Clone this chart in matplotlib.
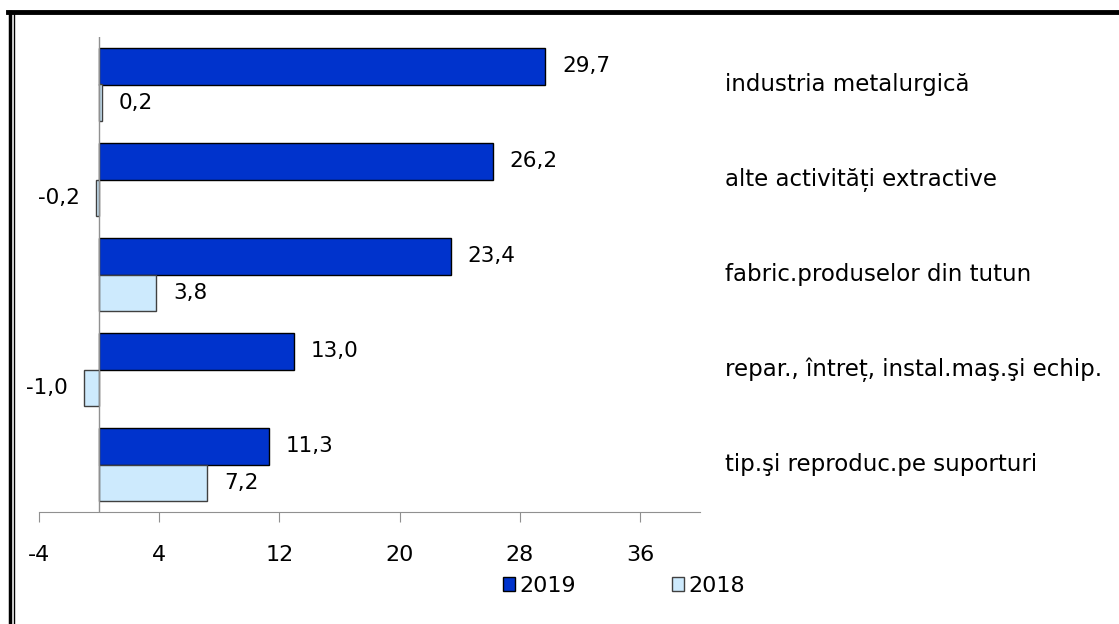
import matplotlib
matplotlib.use("Agg")
import matplotlib.pyplot as plt
from matplotlib.lines import Line2D
import numpy as np

plt.rcParams["font.family"] = ["DejaVu Sans"]

categories = ["industria metalurgică", "alte activități extractive",
              "fabric.produselor din tutun", "repar., întreț, instal.maş.şi echip.",
              "tip.şi reproduc.pe suporturi"]
v2019 = [29.7, 26.2, 23.4, 13.0, 11.3]
v2018 = [0.2, -0.2, 3.8, -1.0, 7.2]
xticks = [-4, 4, 12, 20, 28, 36]

fig = plt.figure(figsize=(11.19, 6.24), dpi=100)
ax = fig.add_axes([39 / 1119, 1 - 512 / 624, 661 / 1119, 475 / 624])

y = np.arange(len(categories))[::-1]
h = 0.384
b1 = ax.barh(y + h / 2, v2019, height=h, color="#0033cc", edgecolor="black", linewidth=1, label="2019")
b2 = ax.barh(y - h / 2, v2018, height=h, color="#cdeafd", edgecolor="#404040", linewidth=1, label="2018")

def fmt(v):
    return ("%.1f" % v).replace(".", ",")

for bars, vals in ((b1, v2019), (b2, v2018)):
    for bar, v in zip(bars, vals):
        yc = bar.get_y() + bar.get_height() / 2
        if v >= 0:
            ax.annotate(fmt(v), (v, yc), xytext=(12, 0), textcoords="offset points",
                        ha="left", va="center", fontsize=15.5)
        else:
            ax.annotate(fmt(v), (v, yc), xytext=(-12, 0), textcoords="offset points",
                        ha="right", va="center", fontsize=15.5)

for yy, name in zip(y, categories):
    ax.text(1.038, yy, name, transform=ax.get_yaxis_transform(), ha="left", va="center",
            fontsize=16.5, clip_on=False)

ax.set_xlim(-4, 40)
ax.set_ylim(-0.5, len(categories) - 0.5)
ax.set_xticks(xticks)
ax.set_xticklabels([str(t) for t in xticks], fontsize=16)
ax.set_yticks([])
for s in ("top", "right", "left"):
    ax.spines[s].set_visible(False)
ax.spines["bottom"].set_color("#909090")
ax.tick_params(axis="x", colors="#909090", labelcolor="black", length=7, pad=17)
ax.axvline(0, color="#909090", linewidth=1)

leg = fig.legend(handles=[b1, b2], loc="center", bbox_to_anchor=(624 / 1119, 1 - 586 / 624),
                 ncol=2, frameon=False, fontsize=16, handlelength=0.55, handleheight=0.55,
                 handletextpad=0.2, columnspacing=4.3)

# border of the frame
fig.add_artist(Line2D([8 / 1119, 1], [1 - 12 / 624, 1 - 12 / 624], color="black", linewidth=3.5))
fig.add_artist(Line2D([10 / 1119, 10 / 1119], [0, 1 - 12 / 624], color="black", linewidth=2.5))
fig.add_artist(Line2D([13.5 / 1119, 13.5 / 1119], [0, 1 - 14 / 624], color="black", linewidth=1))

fig.savefig("out.png", dpi=100)
